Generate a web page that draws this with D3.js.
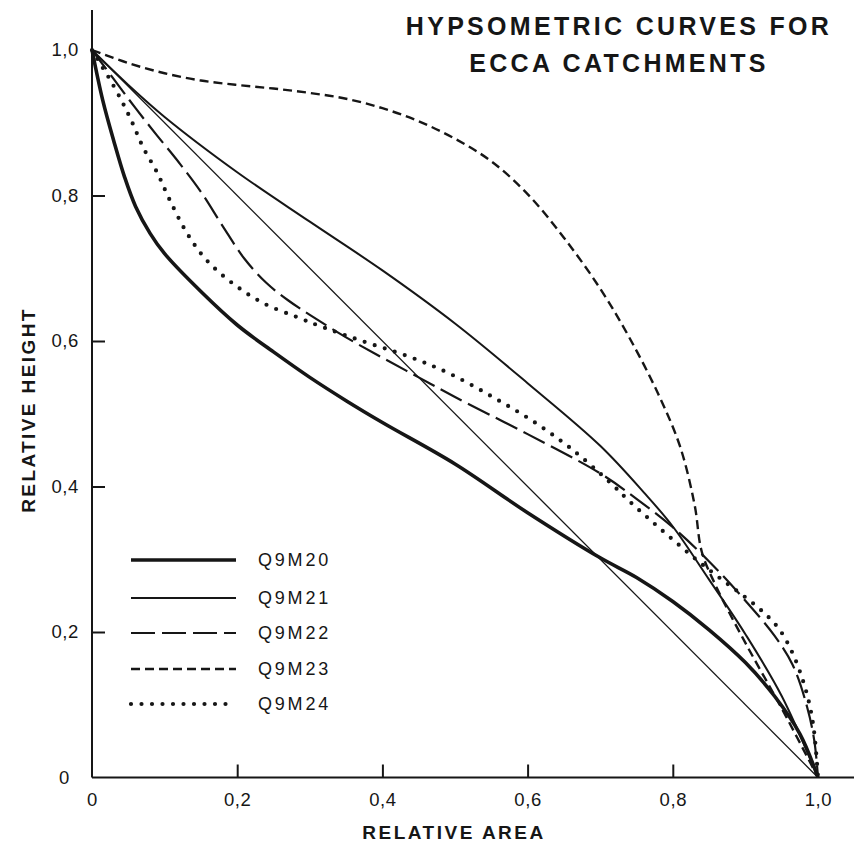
<!DOCTYPE html>
<html>
<head>
<meta charset="utf-8">
<script src="https://cdn.jsdelivr.net/npm/d3@7/dist/d3.min.js"></script>
<style>
  html, body { margin: 0; padding: 0; background: #fff; }
  svg { display: block; }
  text { font-family: "Liberation Sans", Arial, Helvetica, sans-serif; fill: #161616; }
</style>
</head>
<body>
<svg id="chart" width="854" height="850"></svg>
<script>
// Hypsometric curves: relative area (x) vs relative height (y)
const seriesNames = ["Q9M20", "Q9M21", "Q9M22", "Q9M23", "Q9M24"];

const q9m20 = [[0,1],[0.015,0.93],[0.03,0.875],[0.045,0.825],[0.06,0.785],[0.08,0.748],[0.1,0.72],
  [0.15,0.668],[0.2,0.622],[0.25,0.585],[0.3,0.55],[0.35,0.518],[0.4,0.488],[0.5,0.431],[0.6,0.364],
  [0.7,0.302],[0.75,0.275],[0.8,0.242],[0.85,0.203],[0.9,0.158],[0.94,0.112],[0.975,0.06],[1,0]];

const q9m21 = [[0,1],[0.05,0.952],[0.1,0.908],[0.2,0.832],[0.3,0.764],[0.4,0.697],[0.5,0.624],
  [0.6,0.542],[0.7,0.456],[0.76,0.392],[0.8,0.345],[0.85,0.272],[0.9,0.197],[0.95,0.112],[1,0]];

const q9m22 = [[0,1],[0.03,0.96],[0.06,0.92],[0.09,0.882],[0.12,0.845],[0.15,0.805],[0.18,0.758],
  [0.21,0.713],[0.24,0.68],[0.27,0.656],[0.3,0.636],[0.35,0.605],[0.4,0.577],[0.45,0.55],[0.5,0.523],
  [0.6,0.472],[0.7,0.418],[0.75,0.383],[0.8,0.344],[0.85,0.297],[0.9,0.243],[0.94,0.195],
  [0.965,0.155],[0.985,0.097],[0.995,0.05],[1,0]];

const q9m23 = [[0,1],[0.05,0.982],[0.1,0.968],[0.15,0.958],[0.2,0.952],[0.25,0.947],[0.3,0.941],
  [0.35,0.933],[0.4,0.92],[0.45,0.902],[0.5,0.878],[0.55,0.847],[0.6,0.802],[0.65,0.742],[0.7,0.672],
  [0.74,0.605],[0.78,0.527],[0.81,0.455],[0.83,0.375],[0.84,0.31],[0.86,0.262],[0.9,0.185],
  [0.95,0.095],[1,0]];

const q9m24 = [[0,1],[0.012,0.98],[0.025,0.959],[0.043,0.926],[0.056,0.899],[0.07,0.867],[0.09,0.831],
  [0.107,0.794],[0.131,0.748],[0.158,0.711],[0.194,0.679],[0.236,0.652],[0.282,0.633],[0.318,0.619],
  [0.369,0.601],[0.438,0.578],[0.493,0.555],[0.552,0.523],[0.607,0.49],[0.66,0.452],[0.713,0.406],
  [0.741,0.379],[0.769,0.354],[0.800,0.327],[0.833,0.299],[0.865,0.274],[0.917,0.234],[0.945,0.206],
  [0.964,0.173],[0.979,0.134],[0.989,0.097],[0.995,0.06],[1,0]];

// straight reference line from (0,1) to (1,0)
const diagonal = [[0,1],[1,0]];

const xTicks = [0, 0.2, 0.4, 0.6, 0.8, 1.0];
const yTicks = [0, 0.2, 0.4, 0.6, 0.8, 1.0];
const tickLabel = v => v === 0 ? "0" : d3.format(".1f")(v).replace(".", ",");

const seriesData = [q9m20, q9m21, q9m22, q9m23, q9m24];
const styles = [
  { width: 3.6, dash: null, cap: "butt" },
  { width: 2.0, dash: null, cap: "butt" },
  { width: 2.2, dash: "24,7", cap: "butt" },
  { width: 2.4, dash: "9,5", cap: "butt" },
  { width: 4.2, dash: "0,10.5", cap: "round" }
];
const ink = "#161616";

const svg = d3.select("#chart");
const x = d3.scaleLinear().domain([0, 1]).range([92, 818]);
const y = d3.scaleLinear().domain([0, 1]).range([777.5, 50]);

// axis lines
svg.append("line").attr("x1", x(0)).attr("x2", 854).attr("y1", y(0)).attr("y2", y(0))
  .attr("stroke", ink).attr("stroke-width", 2);
svg.append("line").attr("x1", x(0)).attr("x2", x(0)).attr("y1", 10).attr("y2", y(0))
  .attr("stroke", ink).attr("stroke-width", 2);

// x axis: ticks point up into the plot
const gx = svg.append("g").attr("transform", `translate(0,${y(0)})`)
  .call(d3.axisBottom(x).tickValues(xTicks).tickFormat(tickLabel)
    .tickSizeInner(-13).tickSizeOuter(0).tickPadding(15));
gx.select(".domain").remove();
gx.selectAll(".tick line").attr("stroke", ink).attr("stroke-width", 2)
  .filter(d => d === 0 || d === 1).remove();
gx.selectAll(".tick text").attr("font-size", 18.5).attr("fill", ink)
  .attr("font-family", "Liberation Sans, Arial, sans-serif").attr("letter-spacing", 0.6);

// y axis: ticks point right into the plot
const gy = svg.append("g").attr("transform", `translate(${x(0)},0)`)
  .call(d3.axisLeft(y).tickValues(yTicks).tickFormat(tickLabel)
    .tickSizeInner(-13).tickSizeOuter(0).tickPadding(13));
gy.select(".domain").remove();
gy.selectAll(".tick line").attr("stroke", ink).attr("stroke-width", 2)
  .filter(d => d === 0 || d === 1).remove();
gy.selectAll(".tick text").attr("font-size", 18.5).attr("fill", ink)
  .attr("font-family", "Liberation Sans, Arial, sans-serif").attr("letter-spacing", 0.6)
  .filter(d => d === 0).attr("x", -22);

// axis titles
svg.append("text").attr("x", 454).attr("y", 839).attr("text-anchor", "middle")
  .attr("font-size", 19).attr("letter-spacing", 2.5).attr("font-weight", "bold")
  .text("RELATIVE AREA");
svg.append("text").attr("transform", "translate(35,410) rotate(-90)").attr("text-anchor", "middle")
  .attr("font-size", 19).attr("letter-spacing", 2.4).attr("font-weight", "bold")
  .text("RELATIVE HEIGHT");

// title
svg.append("text").attr("x", 619).attr("y", 35).attr("text-anchor", "middle")
  .attr("font-size", 25).attr("letter-spacing", 3.3).attr("font-weight", "bold")
  .text("HYPSOMETRIC CURVES FOR");
svg.append("text").attr("x", 619).attr("y", 72).attr("text-anchor", "middle")
  .attr("font-size", 25).attr("letter-spacing", 3.3).attr("font-weight", "bold")
  .text("ECCA CATCHMENTS");

const line = d3.line().x(d => x(d[0])).y(d => y(d[1])).curve(d3.curveCatmullRom.alpha(0.5));

// diagonal reference
svg.append("path").attr("d", line(diagonal)).attr("fill", "none")
  .attr("stroke", ink).attr("stroke-width", 1.3);

// curves
seriesData.forEach((data, i) => {
  const s = styles[i];
  svg.append("path").attr("d", line(data)).attr("fill", "none")
    .attr("stroke", ink).attr("stroke-width", s.width)
    .attr("stroke-dasharray", s.dash).attr("stroke-linecap", s.cap)
    .attr("stroke-linejoin", "round");
});

// legend
const legendY = [560, 598, 633, 669, 704];
seriesNames.forEach((name, i) => {
  const s = styles[i];
  svg.append("line").attr("x1", 131).attr("x2", 236).attr("y1", legendY[i]).attr("y2", legendY[i])
    .attr("stroke", ink).attr("stroke-width", s.width)
    .attr("stroke-dasharray", s.dash).attr("stroke-linecap", s.cap);
  svg.append("text").attr("x", 258).attr("y", legendY[i]).attr("dy", "0.36em")
    .attr("font-size", 18).attr("letter-spacing", 2.8).text(name);
});
</script>
</body>
</html>
